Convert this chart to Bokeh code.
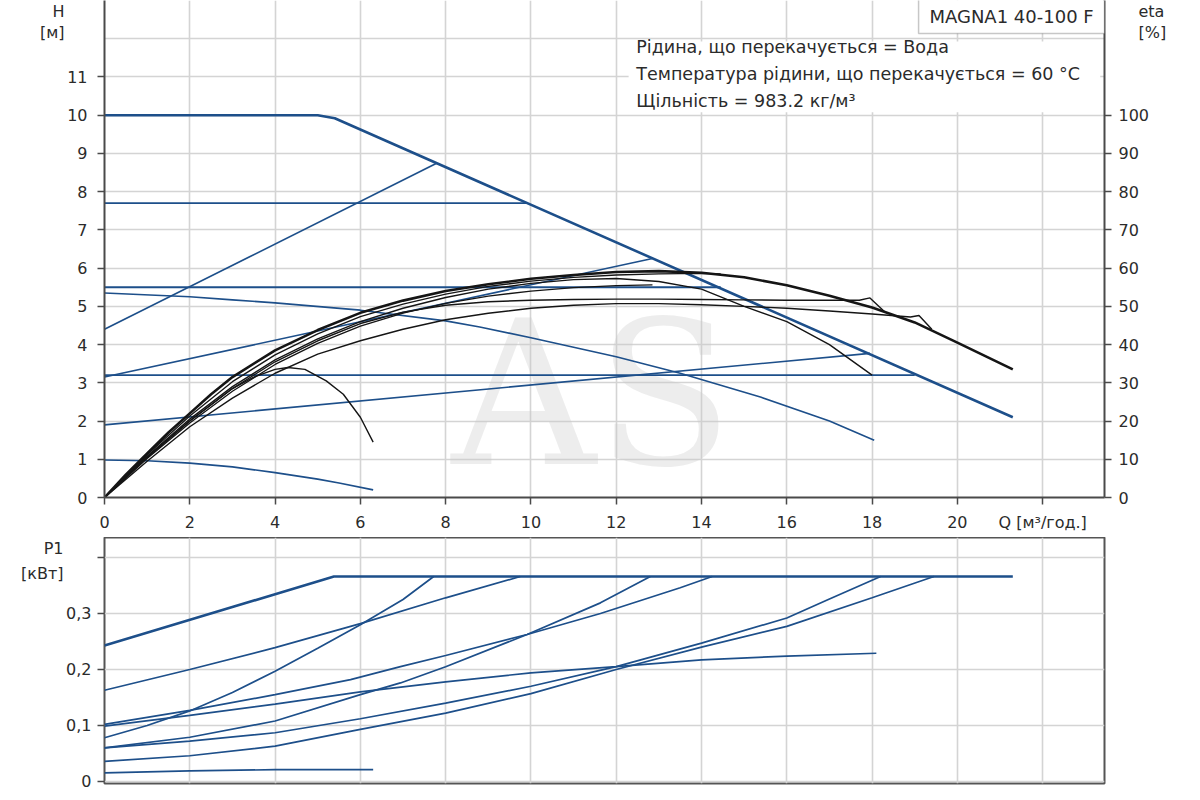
from bokeh.plotting import figure
from bokeh.models import Range1d, LinearAxis, FixedTicker, Label, BoxAnnotation, CustomJSTickFormatter
from bokeh.layouts import column
from bokeh.embed import file_html
from bokeh.resources import INLINE

FONT = "DejaVu Sans"
BLUE = "#1d4f8a"
BLACK = "#151515"
GRID = "#d4d4d4"
AXIS = "#4a4a4a"
TXT = "#2b2b2b"

# ---------------- data: H(Q) curves (blue, left axis, m) ----------------
hmax_q = [0, 5.0, 5.4, 21.3]
hmax_h = [10, 10, 9.92, 2.1]
hcp77_q = [0, 9.9]
hcp77_h = [7.7, 7.7]
hcp55_q = [0, 14.45]
hcp55_h = [5.5, 5.5]
hcp32_q = [0, 19.0]
hcp32_h = [3.2, 3.2]
hpp1_q = [0, 7.8]
hpp1_h = [4.4, 8.75]
hpp2_q = [0, 12.85]
hpp2_h = [3.15, 6.25]
hpp3_q = [0, 17.95]
hpp3_h = [1.9, 3.77]
hfix_q = [0, 2, 3, 4, 6, 8, 8.8, 10, 12, 13.5, 15.4, 17, 18.05]
hfix_h = [5.35, 5.25, 5.17, 5.09, 4.9, 4.62, 4.46, 4.18, 3.68, 3.25, 2.62, 2.0, 1.5]
hmin_q = [0, 1, 2, 3, 4, 5, 5.5, 6.3]
hmin_h = [0.98, 0.96, 0.9, 0.8, 0.65, 0.48, 0.38, 0.2]

# ---------------- data: eta(Q) curves (black, right axis, %) ----------------
e1_q = [0, 0.5, 1, 1.5, 2, 2.5, 3, 4, 5, 6, 7, 8, 9, 10, 11, 12, 13, 14, 15, 16, 17, 18, 19, 20, 21.3]
e1_v = [0, 6, 11.5, 17, 22, 27, 31.5, 38.5, 43.8, 48.3, 51.5, 54, 55.8, 57.2, 58.2, 59, 59.2, 58.8, 57.6, 55.5, 52.8, 49.7, 45.8, 40.5, 33.5]
e2_q = [0, 1, 2, 3, 4, 5, 6, 7, 8, 9, 10, 11, 12, 13, 14, 15, 16, 17, 18]
e2_v = [0, 10.8, 20.5, 29, 36, 41.5, 46, 49.5, 52.3, 54.5, 56, 57, 57.3, 56.5, 54.5, 50, 46, 40, 32]
e3_q = [0, 1, 2, 3, 4, 5, 6, 7, 8, 9, 10, 11, 12, 13, 14, 15, 16, 17, 17.7, 17.95, 18.3]
e3_v = [0, 10.5, 20, 28.5, 35.5, 41, 45.5, 48.5, 50.3, 51.2, 51.6, 51.8, 51.9, 51.9, 51.8, 51.7, 51.6, 51.6, 51.6, 52.2, 48.5]
e4_q = [0, 1, 2, 3, 4, 5, 6, 7, 8, 9, 10, 11, 12, 13, 14, 15, 16, 17, 18, 18.9, 19.1, 19.4]
e4_v = [0, 9.5, 18.5, 26, 32.5, 37.5, 41, 44, 46.5, 48.2, 49.5, 50.3, 50.7, 50.7, 50.4, 50, 49.5, 48.8, 48, 47.2, 47.6, 44]
e5_q = [0, 1, 2, 3, 4, 5, 6, 7, 8, 9, 10, 11, 12, 13, 14, 14.45]
e5_v = [0, 11.2, 21.3, 30.3, 37.3, 42.8, 47.3, 50.6, 53.2, 55.2, 56.6, 57.6, 58.2, 58.5, 58.6, 58.5]
e6_q = [0, 1, 2, 3, 4, 5, 6, 7, 8, 9, 10, 11, 12, 12.85]
e6_v = [0, 10.2, 19.5, 27.8, 34.8, 40.3, 44.8, 48.2, 50.8, 52.7, 54, 54.9, 55.4, 55.6]
e0_q = [0, 1, 2, 3, 3.5, 4, 4.3, 4.7, 5.2, 5.6, 6.0, 6.3]
e0_v = [0, 10.5, 20, 28.5, 31.5, 33.5, 34, 33.5, 30.5, 27, 21, 14.5]

# ---------------- data: P1(Q) curves (blue, kW) ----------------
pmax_q = [0, 5.38, 21.3]
pmax_p = [0.243, 0.366, 0.366]
pcp77_q = [0, 2, 4, 6, 8, 9.75]
pcp77_p = [0.163, 0.2, 0.239, 0.282, 0.328, 0.366]
ppp1_q = [0, 1, 2, 3, 4, 5, 6, 7, 7.72]
ppp1_p = [0.078, 0.1, 0.126, 0.159, 0.197, 0.238, 0.28, 0.325, 0.366]
pcp55_q = [0, 2, 4, 5.77, 6.94, 8, 9.91, 11.63, 13.5, 14.25]
pcp55_p = [0.102, 0.127, 0.155, 0.182, 0.205, 0.225, 0.2625, 0.30, 0.346, 0.366]
ppp2_q = [0, 2, 4, 6, 6.94, 8, 9.91, 11.63, 12.8]
ppp2_p = [0.06, 0.079, 0.108, 0.155, 0.176, 0.205, 0.2625, 0.319, 0.366]
pfix_q = [0, 2, 4, 6, 8, 10, 12, 14, 16, 18.1]
pfix_p = [0.099, 0.118, 0.138, 0.16, 0.178, 0.194, 0.205, 0.217, 0.224, 0.229]
ppp3_q = [0, 2, 4, 6, 8, 10, 12, 14, 16, 17, 18.2]
ppp3_p = [0.06, 0.072, 0.087, 0.112, 0.14, 0.17, 0.205, 0.247, 0.292, 0.326, 0.366]
pcp32_q = [0, 2, 4, 6, 8, 10, 12, 14, 16, 18, 19.45]
pcp32_p = [0.036, 0.046, 0.063, 0.093, 0.122, 0.157, 0.2, 0.24, 0.277, 0.328, 0.366]
pmin_q = [0, 2, 4, 6.3]
pmin_p = [0.0155, 0.019, 0.021, 0.021]

# ---------------- ticks & texts ----------------
q_ticks = [0, 2, 4, 6, 8, 10, 12, 14, 16, 18, 20, 22]
h_ticks = [0, 1, 2, 3, 4, 5, 6, 7, 8, 9, 10, 11]
h_grid = [0, 1, 2, 3, 4, 5, 6, 7, 8, 9, 10, 11, 12]
eta_ticks = [0, 10, 20, 30, 40, 50, 60, 70, 80, 90, 100]
p_ticks = [0, 0.1, 0.2, 0.3, 0.4]
q_label = "Q [м³/год.]"
h_title = ["H", "[м]"]
eta_title = ["eta", "[%]"]
p_title = ["P1", "[кВт]"]
title_text = "MAGNA1 40-100 F"
info_lines = [
    "Рідина, що перекачується = Вода",
    "Температура рідини, що перекачується = 60 °C",
    "Щільність = 983.2 кг/м³",
]

X_END = 23.45
H_END = 13.0
P_START, P_END = -0.0036, 0.4357


def style_axis(ax, standoff=7):
    ax.axis_line_color = AXIS
    ax.axis_line_width = 2
    ax.major_tick_line_color = AXIS
    ax.major_tick_line_width = 1.5
    ax.major_tick_out = 7
    ax.major_tick_in = 0
    ax.minor_tick_line_color = None
    ax.major_label_text_font = FONT
    ax.major_label_text_font_size = "16px"
    ax.major_label_text_color = TXT
    ax.major_label_standoff = standoff


def title_axis(ticks, labels, standoff=0, y_range_name="default"):
    code = "const t = %s; const l = %s; let best = 0; let d = 1e9;" \
           "for (let i = 0; i < t.length; i++) { const e = Math.abs(t[i] - tick); if (e < d) { d = e; best = i; } }" \
           "return l[best];" % (str(ticks), str(labels).replace("'", '"'))
    ax = LinearAxis(ticker=FixedTicker(ticks=ticks), formatter=CustomJSTickFormatter(code=code),
                    y_range_name=y_range_name)
    ax.axis_line_color = None
    ax.major_tick_line_color = None
    ax.major_tick_out = 0
    ax.major_tick_in = 0
    ax.minor_tick_line_color = None
    ax.major_label_text_font = FONT
    ax.major_label_text_font_size = "16px"
    ax.major_label_text_color = TXT
    ax.major_label_standoff = standoff
    return ax


def lbl(p, x, y, text, size="16px", align="center", baseline="middle", color=TXT, **kw):
    p.add_layout(Label(x=x, y=y, text=text, text_font=FONT, text_font_size=size,
                       text_color=color, text_align=align, text_baseline=baseline, **kw))


# ---------------- top figure ----------------
p1 = figure(width=1184, height=537, x_range=Range1d(0, X_END), y_range=Range1d(0, H_END),
            output_backend="svg", toolbar_location=None, title=None,
            min_border_left=104, min_border_right=80, min_border_top=0, min_border_bottom=40)
p1.outline_line_color = None
p1.background_fill_color = "white"
p1.border_fill_color = "white"
p1.extra_y_ranges = {"eta": Range1d(0, H_END * 10)}

p1.xaxis.ticker = FixedTicker(ticks=q_ticks)
p1.xaxis.formatter = CustomJSTickFormatter(code="return tick > 21 ? %r : String(tick);" % q_label)
p1.yaxis.ticker = FixedTicker(ticks=h_ticks)
p1.xgrid.ticker = FixedTicker(ticks=q_ticks)
p1.ygrid.ticker = FixedTicker(ticks=h_grid)
for g in (p1.xgrid[0], p1.ygrid[0]):
    g.grid_line_color = GRID
    g.grid_line_width = 1.6
style_axis(p1.xaxis[0], standoff=8)
style_axis(p1.yaxis[0], standoff=10)

ax_r = LinearAxis(y_range_name="eta", ticker=FixedTicker(ticks=eta_ticks))
style_axis(ax_r, standoff=7)
p1.add_layout(ax_r, "right")
p1.add_layout(title_axis([12.7, 12.17], h_title, standoff=0), "left")
p1.add_layout(title_axis([12.7, 12.17], eta_title, standoff=-14), "right")

# watermark
p1.add_layout(Label(x=11.44, y=2.7, text="AS", text_font="DejaVu Serif",
                    text_font_size="200px", text_color="#c8c8c8", text_alpha=0.33,
                    text_align="center", text_baseline="middle", level="underlay"))

blue_lines = [
    (hmax_q, hmax_h, 2.6), (hcp77_q, hcp77_h, 1.8), (hcp55_q, hcp55_h, 1.8), (hcp32_q, hcp32_h, 1.8),
    (hpp1_q, hpp1_h, 1.6), (hpp2_q, hpp2_h, 1.6), (hpp3_q, hpp3_h, 1.6),
    (hfix_q, hfix_h, 1.6), (hmin_q, hmin_h, 1.6),
]
for qx, hy, w in blue_lines:
    p1.line(qx, hy, line_color=BLUE, line_width=w)

black_lines = [
    (e6_q, e6_v, 1.3), (e5_q, e5_v, 1.3), (e4_q, e4_v, 1.4), (e3_q, e3_v, 1.4),
    (e2_q, e2_v, 1.4), (e0_q, e0_v, 1.4), (e1_q, e1_v, 2.6),
]
for qx, ev, w in black_lines:
    p1.line(qx, ev, line_color=BLACK, line_width=w, y_range_name="eta")

# title box & info box
p1.add_layout(BoxAnnotation(left=19.09, right=X_END, bottom=12.14, top=H_END + 1,
                            fill_color="white", fill_alpha=1, line_color="#444", line_width=1.5))
lbl(p1, 21.27, 12.57, title_text, size="18px")
p1.add_layout(BoxAnnotation(left=12.29, right=23.35, bottom=10.08, top=11.93,
                            fill_color="white", fill_alpha=1, line_color=None))
for t, yy in zip(info_lines, [11.78, 11.07, 10.37]):
    lbl(p1, 12.47, yy, t, size="17.5px", align="left")

# ---------------- bottom figure ----------------
p2 = figure(width=1184, height=258, x_range=p1.x_range, y_range=Range1d(P_START, P_END),
            output_backend="svg", toolbar_location=None, title=None, x_axis_location=None,
            min_border_left=104, min_border_right=80, min_border_top=0, min_border_bottom=12)
p2.outline_line_color = "#555555"
p2.outline_line_width = 2
p2.background_fill_color = "white"
p2.border_fill_color = "white"
p2.xgrid.ticker = FixedTicker(ticks=q_ticks)
p2.ygrid.ticker = FixedTicker(ticks=p_ticks)
for g in (p2.xgrid[0], p2.ygrid[0]):
    g.grid_line_color = GRID
    g.grid_line_width = 1.6
p2.yaxis.ticker = FixedTicker(ticks=p_ticks)
p2.yaxis.formatter = CustomJSTickFormatter(
    code="if (tick > 0.35) return ''; if (Math.abs(tick) < 1e-9) return '0'; return tick.toFixed(1).replace('.', ',');")
style_axis(p2.yaxis[0], standoff=6)
p2.yaxis[0].axis_line_color = None
p2.add_layout(title_axis([0.416, 0.371], p_title, standoff=0), "left")

power_lines = [
    (pmax_q, pmax_p, 2.6), (pcp77_q, pcp77_p, 1.7), (ppp1_q, ppp1_p, 1.7), (pcp55_q, pcp55_p, 1.7),
    (ppp2_q, ppp2_p, 1.7), (pfix_q, pfix_p, 1.7), (ppp3_q, ppp3_p, 1.7), (pcp32_q, pcp32_p, 1.7),
    (pmin_q, pmin_p, 1.7),
]
for qx, pv, w in power_lines:
    p2.line(qx, pv, line_color=BLUE, line_width=w)

layout = column(p1, p2, spacing=0)
open("out.html", "w").write(file_html(layout, INLINE))
